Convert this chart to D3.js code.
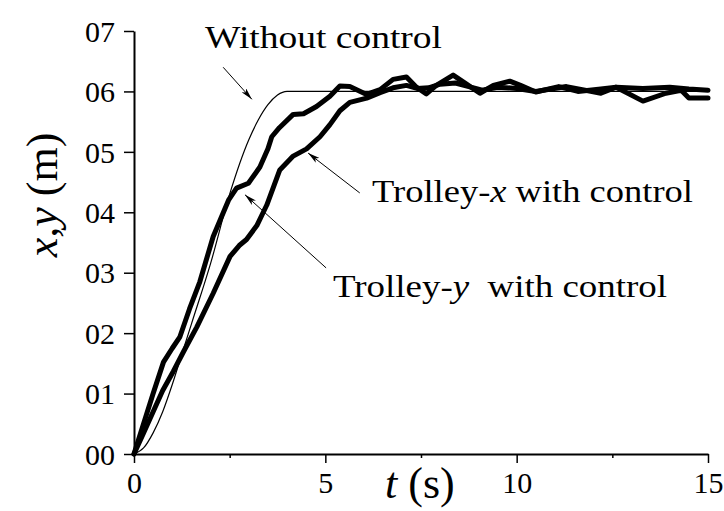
<!DOCTYPE html>
<html>
<head>
<meta charset="utf-8">
<script src="https://cdn.jsdelivr.net/npm/d3@7"></script>
<style>
  body { margin: 0; background: #fff; }
  text { font-family: "Liberation Serif", "DejaVu Serif", serif; fill: #000; }
</style>
</head>
<body>
<div id="chart"></div>
<script>
// time (s) and position (m)
const freeT = [0, 0.25, 0.5, 0.75, 1.0, 1.25, 1.5, 2.0, 2.5, 3.0, 3.25, 3.5, 3.75, 4.0, 15];
const freeY = [0, 0.01, 0.035, 0.07, 0.115, 0.165, 0.215, 0.315, 0.43, 0.52, 0.553, 0.578, 0.594, 0.6, 0.6];

const trolleyYT = [0, 0.25, 0.5, 0.77, 1.0, 1.2, 1.45, 1.72, 2.07, 2.47, 2.68, 2.99, 3.29, 3.5, 3.6, 3.8,
  4.16, 4.43, 4.77, 5.12, 5.38, 5.64, 6.08, 6.43, 6.77, 7.12, 7.38, 7.64, 7.9, 8.34, 8.69, 9.04,
  9.39, 9.82, 10.1, 10.5, 11.1, 11.6, 12.2, 12.6, 13.3, 14.0, 14.5, 15];
const trolleyYY = [0, 0.05, 0.1, 0.152, 0.175, 0.194, 0.24, 0.285, 0.36, 0.42, 0.44, 0.448, 0.475, 0.505, 0.525, 0.54,
  0.562, 0.563, 0.575, 0.592, 0.609, 0.608, 0.595, 0.603, 0.62, 0.624, 0.607, 0.596, 0.61, 0.627, 0.612, 0.597,
  0.61, 0.617, 0.61, 0.599, 0.608, 0.6, 0.604, 0.607, 0.605, 0.607, 0.604, 0.602];

const trolleyXT = [0, 0.25, 0.5, 0.75, 1.03, 1.3, 1.64, 2.07, 2.51, 2.75, 2.94, 3.21, 3.47, 3.81, 4.16, 4.51,
  4.86, 5.12, 5.38, 5.64, 6.08, 6.43, 6.77, 7.12, 7.4, 7.7, 8.0, 8.4, 8.8, 9.1, 9.5, 10.0,
  10.5, 11.3, 12.2, 12.6, 13.3, 13.9, 14.3, 14.5, 15];
const trolleyXY = [0, 0.035, 0.07, 0.105, 0.137, 0.17, 0.21, 0.266, 0.327, 0.345, 0.355, 0.378, 0.412, 0.47, 0.493, 0.505,
  0.525, 0.545, 0.568, 0.582, 0.589, 0.598, 0.606, 0.61, 0.605, 0.606, 0.612, 0.614, 0.607, 0.602, 0.607, 0.605,
  0.6, 0.608, 0.597, 0.607, 0.584, 0.597, 0.602, 0.589, 0.589];

const xTicks = [0, 5, 10, 15];
const xMinorTicks = [2.5, 7.5, 12.5];
const yTicks = [0, 0.1, 0.2, 0.3, 0.4, 0.5, 0.6, 0.7];
const yTickLabels = ["00", "01", "02", "03", "04", "05", "06", "07"];

const width = 724, height = 511;
const margin = { top: 31, right: 16, bottom: 57, left: 134 };

const svg = d3.select("#chart").append("svg")
  .attr("width", width)
  .attr("height", height);

const x = d3.scaleLinear().domain([0, 15]).range([margin.left, width - margin.right]);
const y = d3.scaleLinear().domain([0, 0.7]).range([height - margin.bottom, margin.top]);

const zip = (ts, vs) => ts.map((t, i) => ({ t: t, v: vs[i] }));

// arrow head
svg.append("defs").append("marker")
  .attr("id", "head")
  .attr("viewBox", "0 0 12 6")
  .attr("refX", 12).attr("refY", 3)
  .attr("markerWidth", 12).attr("markerHeight", 6)
  .attr("markerUnits", "userSpaceOnUse")
  .attr("orient", "auto")
  .append("path")
  .attr("d", "M0,0 L12,3 L0,6 L3,3 Z")
  .attr("fill", "#000");

// axes
const yAxis = svg.append("g")
  .attr("transform", "translate(" + margin.left + ",0)")
  .call(d3.axisLeft(y).tickValues(yTicks).tickSize(10).tickSizeOuter(0)
    .tickFormat((d, i) => yTickLabels[i]));

const xAxis = svg.append("g")
  .attr("transform", "translate(0," + (height - margin.bottom) + ")")
  .call(d3.axisBottom(x).tickValues(xTicks).tickSize(9).tickSizeOuter(0));

svg.append("g")
  .attr("transform", "translate(0," + (height - margin.bottom) + ")")
  .call(d3.axisBottom(x).tickValues(xMinorTicks).tickSize(4).tickSizeOuter(0).tickFormat(""))
  .select(".domain").remove();

svg.selectAll(".domain").attr("stroke", "#000").attr("stroke-width", 2);
svg.selectAll(".tick line").attr("stroke", "#000").attr("stroke-width", 1.5);
svg.selectAll(".tick text")
  .attr("font-family", "Liberation Serif")
  .attr("font-size", 30)
  .attr("fill", "#000");
yAxis.selectAll(".tick text").attr("x", -19).attr("dy", "0.34em");
xAxis.selectAll(".tick text").attr("y", 18);

// curves
const line = d3.line().x(d => x(d.t)).y(d => y(d.v));

svg.append("path")
  .datum(zip(freeT, freeY))
  .attr("fill", "none")
  .attr("stroke", "#000")
  .attr("stroke-width", 1.2)
  .attr("d", line.curve(d3.curveMonotoneX));

line.curve(d3.curveLinear);
[zip(trolleyXT, trolleyXY), zip(trolleyYT, trolleyYY)].forEach(data => {
  svg.append("path")
    .datum(data)
    .attr("fill", "none")
    .attr("stroke", "#000")
    .attr("stroke-width", 5)
    .attr("stroke-linejoin", "round")
    .attr("stroke-linecap", "round")
    .attr("d", line);
});

// annotations (arrow start, arrow tip in data units)
const notes = [
  { text: "Without control", tx: 205, ty: 48, len: 237, from: [2.33, 0.64], to: [3.08, 0.587] },
  { text: "Trolley-", it: "x", rest: " with control", tx: 372, ty: 202, len: 321, from: [5.9, 0.432], to: [4.55, 0.498] },
  { text: "Trolley-", it: "y", rest: "  with control", tx: 333, ty: 297, len: 334, from: [5.02, 0.308], to: [2.9, 0.429] }
];

notes.forEach(n => {
  svg.append("line")
    .attr("x1", x(n.from[0])).attr("y1", y(n.from[1]))
    .attr("x2", x(n.to[0])).attr("y2", y(n.to[1]))
    .attr("stroke", "#000")
    .attr("stroke-width", 1)
    .attr("marker-end", "url(#head)");

  const t = svg.append("text")
    .attr("x", n.tx).attr("y", n.ty)
    .attr("font-size", 32)
    .attr("xml:space", "preserve")
    .attr("textLength", n.len)
    .attr("lengthAdjust", "spacingAndGlyphs")
    .text(n.text);
  if (n.it) {
    t.append("tspan").attr("font-style", "italic").text(n.it);
    t.append("tspan").text(n.rest);
  }
});

// axis titles
const yl = svg.append("text")
  .attr("transform", "translate(57," + 195 + ") rotate(-90)")
  .attr("text-anchor", "middle")
  .attr("font-size", 44)
  .attr("xml:space", "preserve");
yl.append("tspan").attr("font-style", "italic").text("x,y");
yl.append("tspan").text(" (m)");

const xl = svg.append("text")
  .attr("x", 385).attr("y", 498)
  .attr("font-size", 44)
  .attr("xml:space", "preserve");
xl.append("tspan").attr("font-style", "italic").text("t");
xl.append("tspan").text(" (s)");
</script>
</body>
</html>
